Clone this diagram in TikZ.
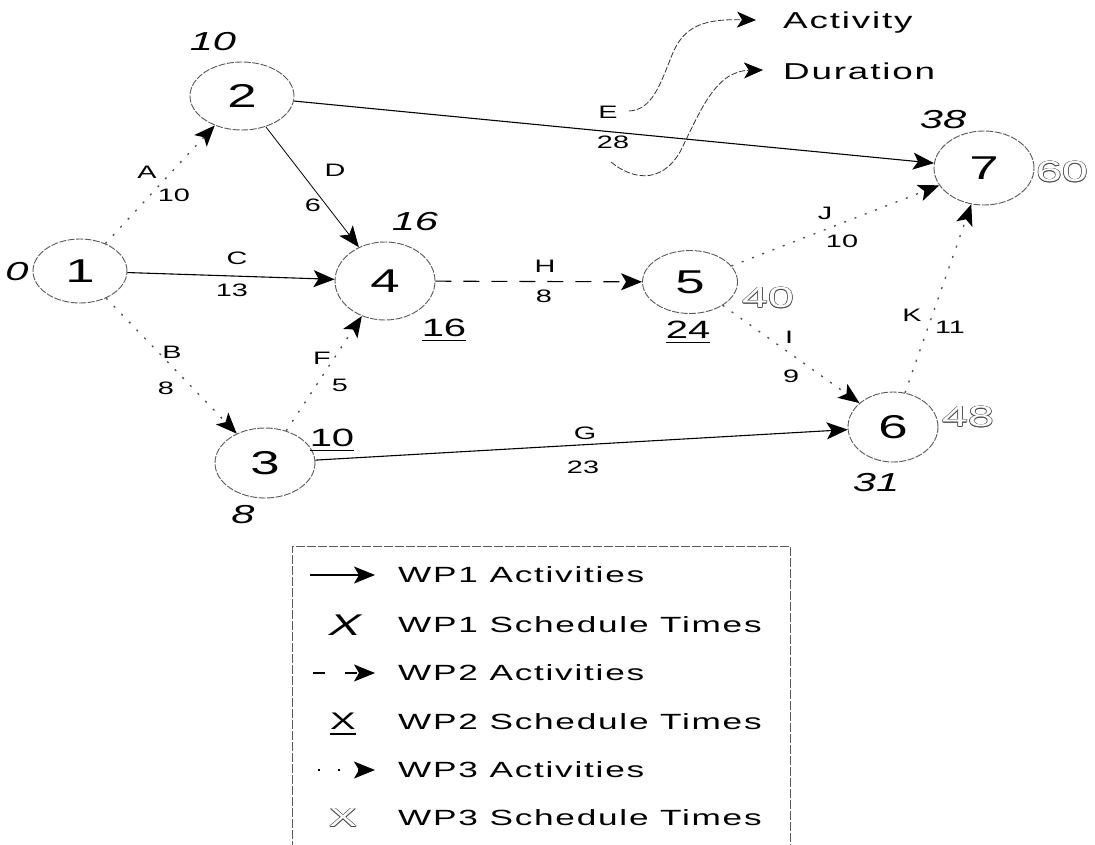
\documentclass[tikz,border=0pt]{standalone}
\usepackage{fontspec}
\usetikzlibrary{shapes.geometric,arrows.meta}
\newfontfamily\wf[FakeStretch=1.6]{Liberation Sans}
\newfontfamily\wfl[FakeStretch=1.6,LetterSpace=8]{Liberation Sans}
\newcommand\fnode{\wf\fontsize{33pt}{35pt}\selectfont}
\newcommand\flab{\wf\fontsize{18pt}{20pt}\selectfont}
\newcommand\fital{\wf\itshape\fontsize{26pt}{28pt}\selectfont}
\newcommand\fund{\wf\fontsize{25pt}{27pt}\selectfont}
\newcommand\fhol{\wf\fontsize{29pt}{31pt}\selectfont}
\newcommand\fleg{\wfl\fontsize{22pt}{24pt}\selectfont}
\newcommand\fkey{\wfl\fontsize{23pt}{25pt}\selectfont}
\newsavebox\ulbx
\newcommand\undl[1]{\sbox\ulbx{#1}\rlap{\usebox\ulbx}\rule[-5pt]{\wd\ulbx}{1.6pt}}
\newcommand\hollowtxt[1]{{\color{black!70}%
 \rlap{\hspace*{-0.7pt}#1}\rlap{\hspace*{0.7pt}#1}%
 \rlap{\raisebox{0.7pt}{#1}}\rlap{\raisebox{-0.7pt}{#1}}%
 \rlap{\hspace*{-0.5pt}\raisebox{0.5pt}{#1}}\rlap{\hspace*{0.5pt}\raisebox{0.5pt}{#1}}%
 \rlap{\hspace*{-0.5pt}\raisebox{-0.5pt}{#1}}\rlap{\hspace*{0.5pt}\raisebox{-0.5pt}{#1}}%
 \color{white}#1}}
\tikzset{
 ev/.style={ellipse, draw=black!65, line width=0.9pt, dash pattern=on 7pt off 1.5pt, inner sep=0pt, font=\fnode},
 headtip/.style={-{Stealth[length=21pt,width=17pt,inset=5pt,color=black]}},
 wpone/.style={draw=black, line width=1.1pt, headtip},
 wptwo/.style={wpone, dash pattern=on 16pt off 12pt},
 wpthree/.style={wpone, draw=black!70, line width=1.3pt, dash pattern=on 2pt off 9pt},
 callout/.style={draw=black!80, line width=0.8pt, dash pattern=on 6pt off 2pt,
   -{Stealth[length=19pt,width=16pt,inset=5pt,color=black]}},
 lab/.style={font=\flab, inner sep=0pt},
 ital/.style={font=\fital, inner sep=0pt},
 und/.style={font=\fund, inner sep=0pt},
 hol/.style={font=\fhol, inner sep=0pt},
 leg/.style={font=\fleg, inner sep=0pt, anchor=west},
 key/.style={font=\fkey, inner sep=0pt, anchor=west},
 legbox/.style={draw=black!65, line width=0.9pt, dash pattern=on 9pt off 2pt}
}
\begin{document}
\begin{tikzpicture}[x=1pt,y=-1pt]
\useasboundingbox[fill=white] (0,0) rectangle (1095,845);
% events
\node[ev, minimum width=94pt, minimum height=64pt] (n1) at (80,271) {1};
\node[ev, minimum width=104pt, minimum height=68pt] (n2) at (242,96) {2};
\node[ev, minimum width=100pt, minimum height=70pt] (n3) at (265,463) {3};
\node[ev, minimum width=100pt, minimum height=78pt] (n4) at (385,281) {4};
\node[ev, minimum width=95pt, minimum height=63pt] (n5) at (690,282) {5};
\node[ev, minimum width=90pt, minimum height=70pt] (n6) at (893,427) {6};
\node[ev, minimum width=100pt, minimum height=74pt] (n7) at (984,168) {7};
% activities
\draw[wpthree] (n1) -- (n2);
\draw[wpone] (n1) -- (n4);
\draw[wpthree] (n1) -- (n3);
\draw[wpone, line width=0.8pt] (n2) -- (n4);
\draw[wpone] (n2) -- (n7);
\draw[wpthree] (n3) -- (n4);
\draw[wpone] (n3) -- (n6);
\draw[wptwo] (n4) -- (n5);
\draw[wpthree] (n5) -- (n6);
\draw[wpthree] (n5) -- (n7);
\draw[wpthree] (n6) -- (n7);
% activity labels
\node[lab] (la) at (147,172) {A};  \node[lab] (da) at (174,195) {10};
\node[lab] (ld) at (335,170) {D};  \node[lab] (dd) at (313,205) {6};
\node[lab] (lc) at (237,258) {C};  \node[lab] (dc) at (232,290) {13};
\node[lab] (lb) at (172,352) {B};  \node[lab] (db) at (166,388) {8};
\node[lab] (lf) at (322,358) {F};  \node[lab] (df) at (340,385) {5};
\node[lab] (le) at (608,112) {E};  \node[lab] (de) at (613,142) {28};
\node[lab] (lh) at (545,266) {H};  \node[lab] (dh) at (544,296) {8};
\node[lab] (lj) at (825,213) {J};  \node[lab] (dj) at (842,241) {10};
\node[lab] (li) at (789,337) {I};  \node[lab] (di) at (791,376) {9};
\node[lab] (lk) at (912,315) {K};  \node[lab] (dk) at (950,327) {11};
\node[lab] (lg) at (585,433) {G};  \node[lab] (dg) at (583,467) {23};
% key for activity / duration
\node[key] (act) at (783,23) {Activity};
\node[key] (dur) at (783,71) {Duration};
\coordinate (cs1) at (629,111);
\coordinate (ta) at (756,20);
\coordinate (cs2) at (611,162);
\coordinate (td) at (763,70);
\draw[callout] (cs1) .. controls (652,110) and (660,85) .. (672,55)
   .. controls (684,25) and (705,19) .. (ta);
\draw[callout] (cs2) .. controls (630,178) and (660,186) .. (680,152)
   .. controls (700,112) and (715,71) .. (td);
% schedule times
\node[ital] (t1) at (17,272) {0};
\node[ital] (t2) at (213,42) {10};
\node[ital] (t4) at (415,222) {16};
\node[ital] (t7) at (943,120) {38};
\node[ital] (t6) at (876,483) {31};
\node[ital] (t3) at (243,515) {8};
\node[und] (u4) at (444,330) {\undl{16}};
\node[und] (u5) at (688,332) {\undl{24}};
\node[und] (u3) at (332,440) {\undl{10}};
\node[hol] (h5) at (768,298) {\hollowtxt{40}};
\node[hol] (h7) at (1062,172) {\hollowtxt{60}};
\node[hol] (h6) at (968,417) {\hollowtxt{48}};
% legend
\draw[legbox] (292,850) -- (292,546) -- (790,546) -- (790,850);
\coordinate (k1a) at (310,575); \coordinate (k1b) at (375,575);
\coordinate (k2a) at (313,673); \coordinate (k2b) at (375,673);
\coordinate (k3a) at (318,770); \coordinate (k3b) at (375,770);
\draw[wpone] (k1a) -- (k1b);
\draw[wptwo, dash pattern=on 12pt off 20pt] (k2a) -- (k2b);
\draw[wpthree, draw=black, dash pattern=on 2pt off 18pt] (k3a) -- (k3b);
\node[leg] (g1) at (398,575) {WP1 Activities};
\node[font=\wf\itshape\fontsize{30pt}{32pt}\selectfont, inner sep=0pt] (x1) at (345,625) {X};
\node[leg] (g2) at (398,625) {WP1 Schedule Times};
\node[leg] (g3) at (398,673) {WP2 Activities};
\node[font=\wf\fontsize{24pt}{26pt}\selectfont, inner sep=0pt] (x2) at (343,724) {\undl{X}};
\node[leg] (g4) at (398,722) {WP2 Schedule Times};
\node[leg] (g5) at (398,770) {WP3 Activities};
\node[font=\wf\fontsize{26pt}{28pt}\selectfont, inner sep=0pt] (x3) at (343,818) {\hollowtxt{X}};
\node[leg] (g6) at (398,818) {WP3 Schedule Times};
\end{tikzpicture}
\end{document}
